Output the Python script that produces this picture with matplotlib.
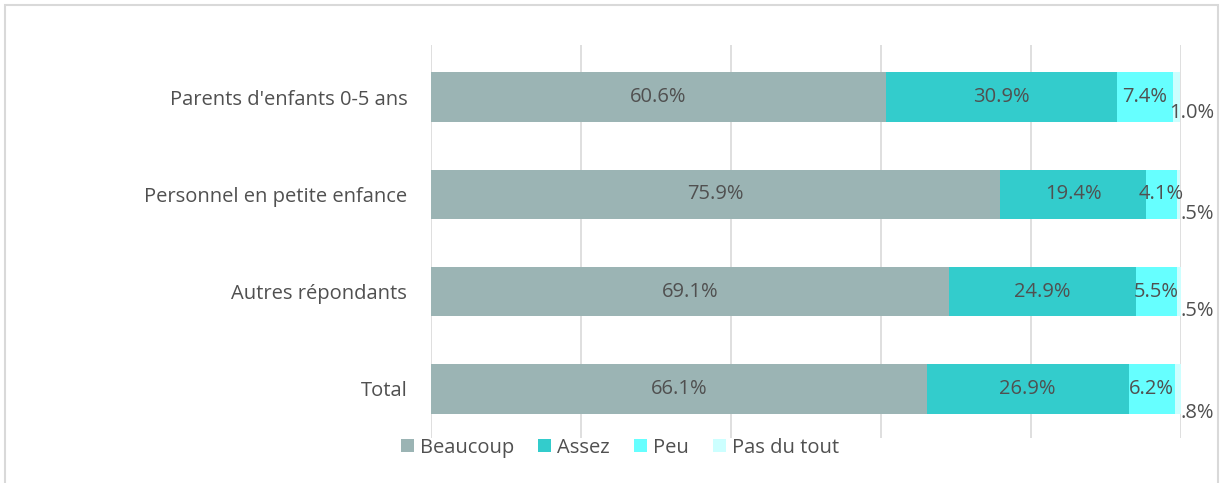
import matplotlib.pyplot as plt
from matplotlib.patches import Rectangle

categories = ["Total", "Autres répondants", "Personnel en petite enfance", "Parents d'enfants 0-5 ans"]
series_names = ["Beaucoup", "Assez", "Peu", "Pas du tout"]
beaucoup = [66.1, 69.1, 75.9, 60.6]
assez = [26.9, 24.9, 19.4, 30.9]
peu = [6.2, 5.5, 4.1, 7.4]
pas_du_tout = [0.8, 0.5, 0.5, 1.0]
small_labels = [".8%", ".5%", ".5%", "1.0%"]

colours = ["#9BB4B4", "#33CCCC", "#66FFFF", "#CCFFFF"]
text_col = "#505050"
fs = 14.5

plt.rcParams["font.family"] = ["Open Sans", "DejaVu Sans"]

fig = plt.figure(figsize=(12.23, 4.83), dpi=100)
ax = fig.add_axes([0.3524, 0.0932, 0.6133, 0.8136])

y = list(range(len(categories)))
left = [0.0] * len(categories)
for vals, name, col in zip([beaucoup, assez, peu, pas_du_tout], series_names, colours):
    ax.barh(y, vals, left=left, height=0.51, color=col, label=name, zorder=2)
    if name != "Pas du tout":
        for i, v in enumerate(vals):
            ax.text(left[i] + v / 2, y[i], f"{v:.1f}%", ha="center", va="center",
                    fontsize=fs, color=text_col, zorder=3)
    left = [l + v for l, v in zip(left, vals)]

# tiny last segment labels spill past the bar end
y_shift = [0.25, 0.2, 0.2, 0.16]
for i, lab in enumerate(small_labels):
    ax.text(104.4, y[i] - y_shift[i], lab, ha="right", va="center",
            fontsize=fs, color=text_col, zorder=3)

ax.set_xlim(0, 100)
ax.set_ylim(-0.505, 3.535)
ax.set_xticks([0, 20, 40, 60, 80, 100])
ax.set_xticklabels([])
ax.grid(True, axis="x", color="#D9D9D9", linewidth=1.2, zorder=0)
ax.set_yticks(y)
ax.set_yticklabels(categories, fontsize=fs, color=text_col)
ax.tick_params(axis="both", length=0, pad=17)
for s in ax.spines.values():
    s.set_visible(False)

fig.legend(loc="center", bbox_to_anchor=(0.507, 0.073), ncol=4, frameon=False,
           fontsize=fs, labelcolor=text_col, handlelength=0.65, handleheight=0.65,
           handletextpad=0.3, columnspacing=1.2)

fig.patches.append(Rectangle((5 / 1223, -0.05), 1213 / 1223, 1 - 5 / 483 + 0.05,
                             transform=fig.transFigure, fill=False,
                             edgecolor="#D9D9D9", linewidth=1.5))

fig.savefig("out.png", dpi=100)
